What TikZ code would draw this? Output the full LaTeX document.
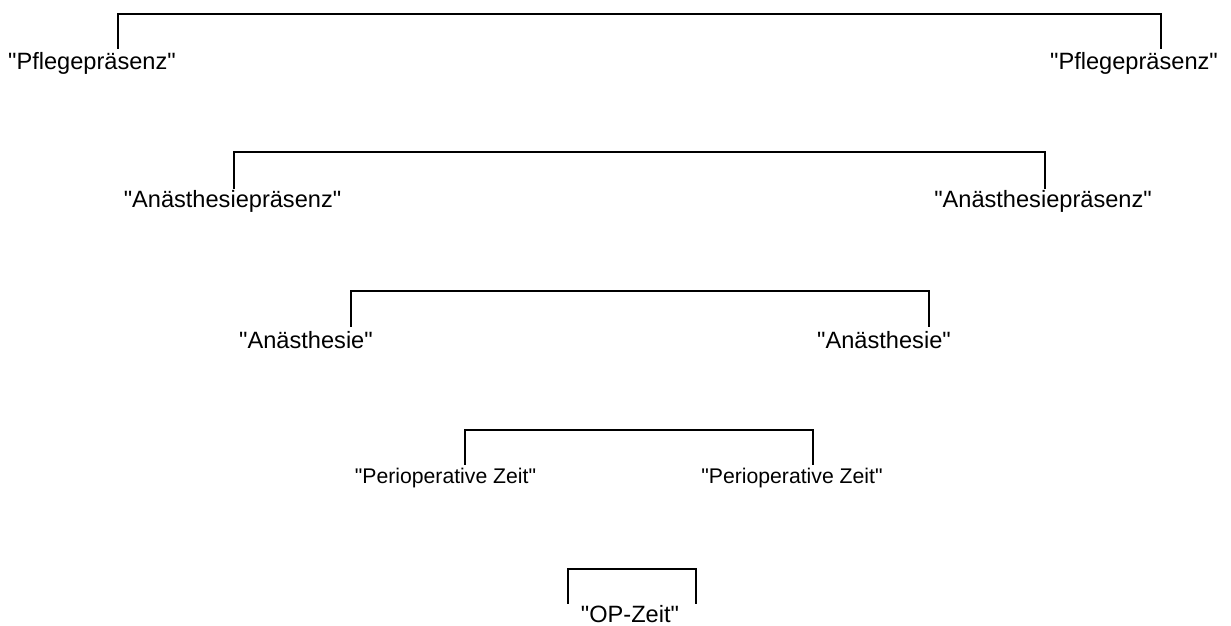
\documentclass[tikz,border=0pt]{standalone}
\usepackage{fontspec}
\newfontfamily\lsans{Liberation Sans}
\newcommand{\bigfnt}{\lsans\fontsize{11.8}{14}\selectfont}
\newcommand{\smallfnt}{\lsans\fontsize{10.6}{13}\selectfont}
\begin{document}
\begin{tikzpicture}[x=0.5pt,y=-0.5pt,
  lbl/.style={anchor=base,inner sep=0pt,font=\bigfnt},
  slbl/.style={anchor=base,inner sep=0pt,font=\smallfnt},
  brk/.style={line width=1pt,line join=miter,line cap=rect}]
\useasboundingbox (0,0) rectangle (1231,626);
% labels
\node[lbl]  (pl) at (92,70)    {"Pflegepräsenz"};
\node[lbl]  (pr) at (1134,70)  {"Pflegepräsenz"};
\node[lbl]  (al) at (232.5,207) {"Anästhesiepräsenz"};
\node[lbl]  (ar) at (1043,207) {"Anästhesiepräsenz"};
\node[lbl]  (nl) at (306,348)  {"Anästhesie"};
\node[lbl]  (nr) at (884,348)  {"Anästhesie"};
\node[slbl] (zl) at (445.5,483) {"Perioperative Zeit"};
\node[slbl] (zr) at (792,483)  {"Perioperative Zeit"};
\node[lbl]  (op) at (630,622)  {"OP-Zeit"};
% bracket feet
\coordinate (pl1) at (118,48);  \coordinate (pr1) at (1161,48);
\coordinate (al1) at (234,188); \coordinate (ar1) at (1045,188);
\coordinate (nl1) at (351,326); \coordinate (nr1) at (929,326);
\coordinate (zl1) at (465,464); \coordinate (zr1) at (813,464);
\coordinate (ol1) at (568,603); \coordinate (or1) at (696,603);
% brackets
\draw[brk] (pl1) -- ++(0,-34) -| (pr1);
\draw[brk] (al1) -- ++(0,-36) -| (ar1);
\draw[brk] (nl1) -- ++(0,-35) -| (nr1);
\draw[brk] (zl1) -- ++(0,-34) -| (zr1);
\draw[brk] (ol1) -- ++(0,-34) -| (or1);
\end{tikzpicture}
\end{document}
